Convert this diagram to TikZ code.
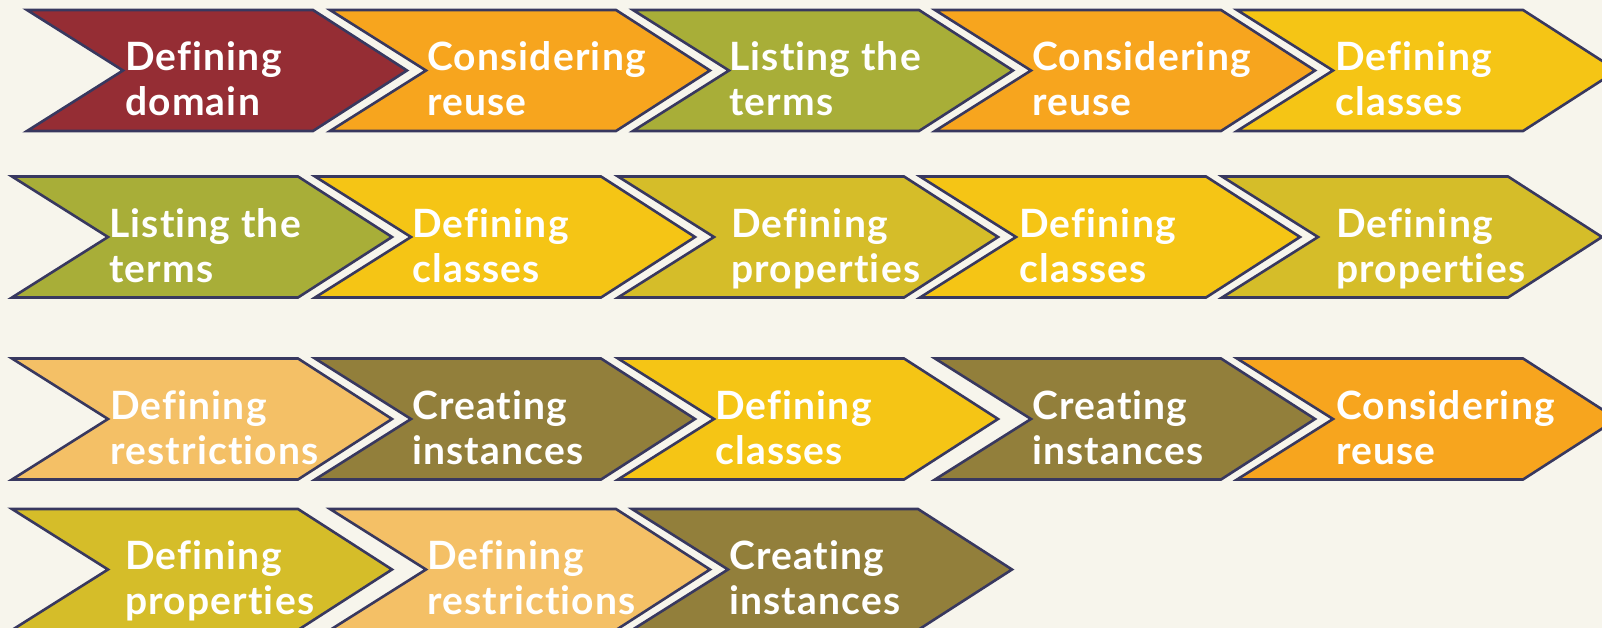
\documentclass[tikz,border=0pt]{standalone}
\usepackage{fontspec}
\newfontfamily\labelfont{Lato}[Ligatures=NoCommon, LetterSpace=3]
\definecolor{bgc}{HTML}{F7F5EC}
\definecolor{edgec}{HTML}{38385F}
\definecolor{cdred}{HTML}{952D34}
\definecolor{corange}{HTML}{F7A51E}
\definecolor{colive}{HTML}{A8AE38}
\definecolor{cyellow}{HTML}{F5C515}
\definecolor{cmustard}{HTML}{D5BD29}
\definecolor{clight}{HTML}{F4C066}
\definecolor{cbrown}{HTML}{927F3B}
\tikzset{
  chev/.style={draw=edgec, line width=2.6pt, line join=miter},
  lbl/.style={anchor=base west, inner sep=0pt, text=white,
    font=\labelfont\bfseries\fontsize{39}{45}\selectfont}
}
\newcommand{\chevron}[6]{%
  \coordinate (#1) at (#2,#3);
  \filldraw[chev, fill=#4] (#2,#3-60.5) -- ++(286,0) -- ++(94,60.5) -- ++(-94,60.5) -- ++(-286,0) -- ++(96,-60.5) -- cycle;
  \node[lbl] (#1t) at (#5,#3) {\begin{tabular}[t]{@{}l@{}}#6\end{tabular}};
}
\begin{document}
\begin{tikzpicture}[x=1pt,y=-1pt]
\useasboundingbox (0,0) rectangle (1602,628);
\fill[bgc] (0,0) rectangle (1602,628);
\clip (0,0) rectangle (1602,628);
% row 1
\chevron{a1}{27}{70.5}{cdred}{125}{Defining\\domain}
\chevron{a2}{330}{70.5}{corange}{427}{Considering\\reuse}
\chevron{a3}{633}{70.5}{colive}{729}{Listing the\\terms}
\chevron{a4}{935}{70.5}{corange}{1032}{Considering\\reuse}
\chevron{a5}{1237}{70.5}{cyellow}{1335}{Defining\\classes}
% row 2
\chevron{b1}{12}{237}{colive}{109}{Listing the\\terms}
\chevron{b2}{315}{237}{cyellow}{412}{Defining\\classes}
\chevron{b3}{618}{237}{cmustard}{731}{Defining\\properties}
\chevron{b4}{920}{237}{cyellow}{1019}{Defining\\classes}
\chevron{b5}{1222}{237}{cmustard}{1336}{Defining\\properties}
% row 3
\chevron{c1}{12}{419}{clight}{110}{Defining\\restrictions}
\chevron{c2}{315}{419}{cbrown}{412}{Creating\\instances}
\chevron{c3}{618}{419}{cyellow}{715}{Defining\\classes}
\chevron{c4}{935}{419}{cbrown}{1032}{Creating\\instances}
\chevron{c5}{1237}{419}{corange}{1336}{Considering\\reuse}
% row 4
\chevron{d1}{12}{569.5}{cmustard}{125}{Defining\\properties}
\chevron{d2}{330}{569.5}{clight}{427}{Defining\\restrictions}
\chevron{d3}{632}{569.5}{cbrown}{729}{Creating\\instances}
\end{tikzpicture}
\end{document}
